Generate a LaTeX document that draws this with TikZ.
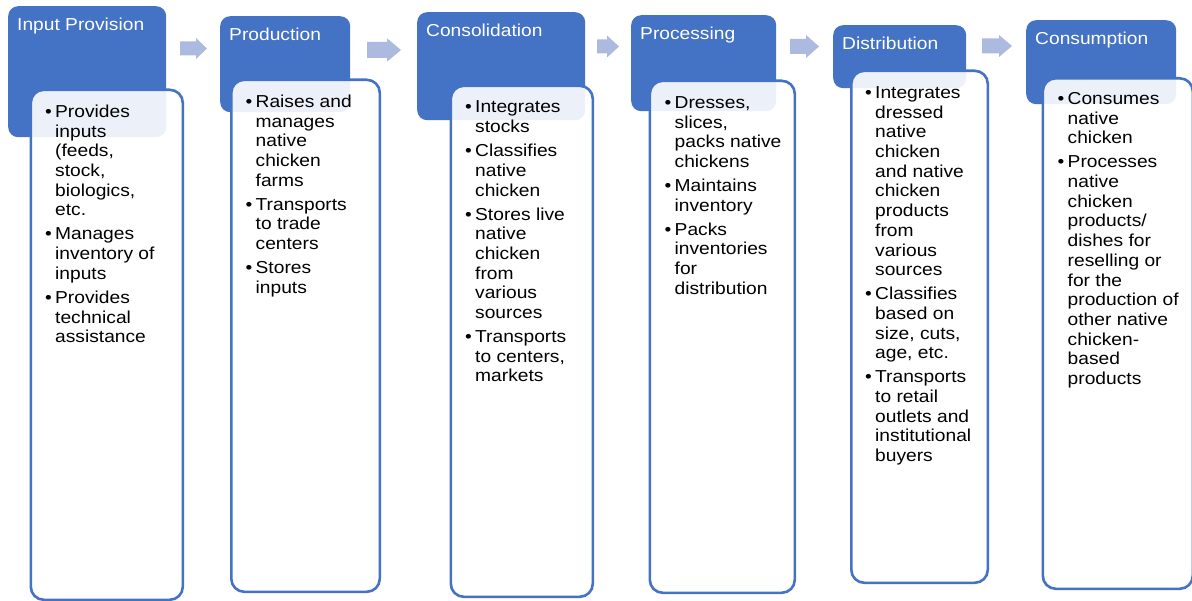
\documentclass[tikz,border=0pt]{standalone}
\usepackage{fontspec}
\setmainfont[FakeStretch=1.11]{Liberation Sans}
\usepackage{array}
\definecolor{hdrblue}{HTML}{4472C4}
\definecolor{arrowblue}{HTML}{ABBADE}

% bullet list set as a two-column table: bullet, then the wrapped lines
\newcommand{\bul}{\textbullet}
\newenvironment{stagelist}{\begin{tabular}[t]{@{}p{10pt}@{}l@{}}}{\end{tabular}}
\newcommand{\gap}{\\[4.3pt]}

% light block arrow: left x, tip x, centre y, head half-height, shaft half-height, head start x
\newcommand{\blockarrow}[6]{%
  \fill[flowarrow] (#1,#3-#5) -- (#6,#3-#5) -- (#6,#3-#4) -- (#2,#3)
    -- (#6,#3+#4) -- (#6,#3+#5) -- (#1,#3+#5) -- cycle;}

\tikzset{
  header/.style={shape=rectangle, draw=none, fill=hdrblue, rounded corners=10pt,
    anchor=north west, inner sep=0pt},
  panel/.style={shape=rectangle, draw=hdrblue, line width=2.6pt, fill=white,
    fill opacity=0.9, rounded corners=13pt, anchor=north west, inner sep=0pt},
  hdrtext/.style={text=white, font=\fontsize{17.3}{20}\selectfont, anchor=base west,
    inner sep=0pt},
  bodytext/.style={text=black, font=\fontsize{17.3}{19.7}\selectfont, anchor=base west,
    inner sep=0pt},
  flowarrow/.style={fill=arrowblue, draw=none},
}

\begin{document}
\begin{tikzpicture}[x=1pt, y=-1pt]
\useasboundingbox (0,0) rectangle (1192,601);

% stage headers
\node[header, minimum width=158, minimum height=131] (h1) at (8,6) {};
\node[header, minimum width=130, minimum height=96]  (h2) at (220,16) {};
\node[header, minimum width=168, minimum height=108] (h3) at (417,12) {};
\node[header, minimum width=145, minimum height=96]  (h4) at (631,15) {};
\node[header, minimum width=133, minimum height=63]  (h5) at (833,25) {};
\node[header, minimum width=150, minimum height=84]  (h6) at (1026,20) {};

% detail panels, laid over the lower part of each header
\node[panel, minimum width=152,   minimum height=510]   (p1) at (29.5,88.5) {};
\node[panel, minimum width=148.5, minimum height=512]   (p2) at (230,78.5) {};
\node[panel, minimum width=142,   minimum height=511]   (p3) at (449.5,84.5) {};
\node[panel, minimum width=145,   minimum height=512]   (p4) at (648.5,79.5) {};
\node[panel, minimum width=136.5, minimum height=512]   (p5) at (850,69.5) {};
\node[panel, minimum width=150,   minimum height=510.5] (p6) at (1041.5,77) {};

% header titles
\node[hdrtext] (t1) at ([xshift=9pt,yshift=-25pt]h1.north west) {Input Provision};
\node[hdrtext] (t2) at ([xshift=9pt,yshift=-25pt]h2.north west) {Production};
\node[hdrtext] (t3) at ([xshift=9pt,yshift=-25pt]h3.north west) {Consolidation};
\node[hdrtext] (t4) at ([xshift=9pt,yshift=-25pt]h4.north west) {Processing};
\node[hdrtext] (t5) at ([xshift=9pt,yshift=-25pt]h5.north west) {Distribution};
\node[hdrtext] (t6) at ([xshift=9pt,yshift=-25pt]h6.north west) {Consumption};

% panel contents
\node[bodytext] (b1) at ([xshift=15.5pt,yshift=-29pt]p1.north west) {\begin{stagelist}
\bul & Provides\\ & inputs\\ & (feeds,\\ & stock,\\ & biologics,\\ & etc.\gap
\bul & Manages\\ & inventory of\\ & inputs\gap
\bul & Provides\\ & technical\\ & assistance
\end{stagelist}};

\node[bodytext] (b2) at ([xshift=15.5pt,yshift=-29pt]p2.north west) {\begin{stagelist}
\bul & Raises and\\ & manages\\ & native\\ & chicken\\ & farms\gap
\bul & Transports\\ & to trade\\ & centers\gap
\bul & Stores\\ & inputs
\end{stagelist}};

\node[bodytext] (b3) at ([xshift=15.5pt,yshift=-28.5pt]p3.north west) {\begin{stagelist}
\bul & Integrates\\ & stocks\gap
\bul & Classifies\\ & native\\ & chicken\gap
\bul & Stores live\\ & native\\ & chicken\\ & from\\ & various\\ & sources\gap
\bul & Transports\\ & to centers,\\ & markets
\end{stagelist}};

\node[bodytext] (b4) at ([xshift=16pt,yshift=-29pt]p4.north west) {\begin{stagelist}
\bul & Dresses,\\ & slices,\\ & packs native\\ & chickens\gap
\bul & Maintains\\ & inventory\gap
\bul & Packs\\ & inventories\\ & for\\ & distribution
\end{stagelist}};

\node[bodytext] (b5) at ([xshift=15pt,yshift=-29pt]p5.north west) {\begin{stagelist}
\bul & Integrates\\ & dressed\\ & native\\ & chicken\\ & and native\\ & chicken\\ & products\\ & from\\ & various\\ & sources\gap
\bul & Classifies\\ & based on\\ & size, cuts,\\ & age, etc.\gap
\bul & Transports\\ & to retail\\ & outlets and\\ & institutional\\ & buyers
\end{stagelist}};

\node[bodytext] (b6) at ([xshift=16pt,yshift=-27.5pt]p6.north west) {\begin{stagelist}
\bul & Consumes\\ & native\\ & chicken\gap
\bul & Processes\\ & native\\ & chicken\\ & products/\\ & dishes for\\ & reselling or\\ & for the\\ & production of\\ & other native\\ & chicken-\\ & based\\ & products
\end{stagelist}};

% flow arrows between the stages
\blockarrow{180}{207}{48.5}{10.5}{7}{196}
\blockarrow{367}{401}{50}{11.7}{8}{387}
\blockarrow{597}{619}{46.5}{11}{7}{607}
\blockarrow{790}{819}{46.5}{11.5}{7.5}{806}
\blockarrow{982}{1012}{46}{11}{7.5}{999}
\end{tikzpicture}
\end{document}
